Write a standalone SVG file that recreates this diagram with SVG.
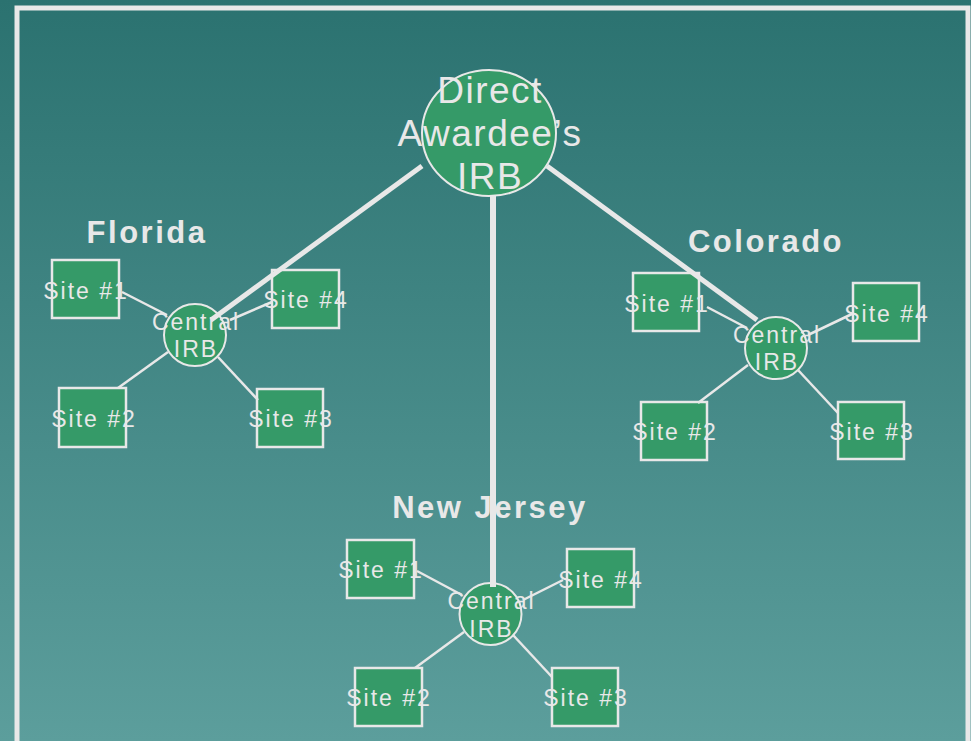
<svg xmlns="http://www.w3.org/2000/svg" width="971" height="741" viewBox="0 0 971 741">
<defs>
<linearGradient id="bg" x1="0" y1="0" x2="0" y2="1">
<stop offset="0" stop-color="#2b7270"/>
<stop offset="1" stop-color="#5c9e9c"/>
</linearGradient>
</defs>
<style>
.box{fill:#359a68;stroke:#e8e8e8;stroke-width:2.5}
.circ{fill:#359a68;stroke:#e8e8e8;stroke-width:2}
.t{font-family:"Liberation Sans",Arial,sans-serif;fill:#e8e8e8;text-anchor:middle}
.s{font-size:23px;letter-spacing:2px}
.big{font-size:37px;letter-spacing:1.5px}
.lbl{font-family:"Liberation Sans",Arial,sans-serif;font-weight:bold;font-size:31px;letter-spacing:2.5px;fill:#e8e8e8;text-anchor:middle}
.thin{stroke:#e8e8e8;stroke-width:2.5;fill:none}
.thick{stroke:#e8e8e8;stroke-width:5;fill:none}
</style>
<rect x="0" y="0" width="971" height="741" fill="url(#bg)"/>
<rect x="17" y="8" width="951" height="760" fill="none" stroke="#e8e8e8" stroke-width="5"/>

<g id="labels">
<text class="lbl" x="147" y="243">Florida</text>
<text class="lbl" x="766" y="252">Colorado</text>
<text class="lbl" x="490" y="518">New Jersey</text>
</g>

<g id="main">
<ellipse class="circ" cx="489" cy="133" rx="67" ry="63"/>
<text class="t big" x="490" y="103">Direct</text>
<text class="t big" x="490" y="146">Awardee’s</text>
<text class="t big" x="490" y="189">IRB</text>
</g>

<g id="fl-central"><circle class="circ" cx="195" cy="335" r="31"/><text class="t s" x="196" y="330">Central</text><text class="t s" x="196" y="357">IRB</text></g>
<g id="fl-site1"><rect class="box" x="52" y="260" width="67" height="58"/><text class="t s" x="86" y="299">Site #1</text></g>
<g id="fl-site4"><rect class="box" x="272" y="270" width="67" height="58"/><text class="t s" x="306" y="308">Site #4</text></g>
<g id="fl-site2"><rect class="box" x="59" y="388" width="67" height="59"/><text class="t s" x="94" y="427">Site #2</text></g>
<g id="fl-site3"><rect class="box" x="257" y="389" width="66" height="58"/><text class="t s" x="291" y="427">Site #3</text></g>

<g id="co-central"><circle class="circ" cx="776" cy="348" r="31"/><text class="t s" x="777" y="343">Central</text><text class="t s" x="777" y="370">IRB</text></g>
<g id="co-site1"><rect class="box" x="633" y="273" width="66" height="58"/><text class="t s" x="667" y="312">Site #1</text></g>
<g id="co-site4"><rect class="box" x="853" y="283" width="66" height="58"/><text class="t s" x="887" y="322">Site #4</text></g>
<g id="co-site2"><rect class="box" x="641" y="402" width="66" height="58"/><text class="t s" x="675" y="440">Site #2</text></g>
<g id="co-site3"><rect class="box" x="838" y="402" width="66" height="57"/><text class="t s" x="872" y="440">Site #3</text></g>

<g id="nj-central"><circle class="circ" cx="490.5" cy="614" r="31"/><text class="t s" x="491.5" y="609">Central</text><text class="t s" x="491.5" y="637">IRB</text></g>
<g id="nj-site1"><rect class="box" x="347" y="540" width="67" height="58"/><text class="t s" x="381" y="578">Site #1</text></g>
<g id="nj-site4"><rect class="box" x="567" y="549" width="67" height="58"/><text class="t s" x="601" y="588">Site #4</text></g>
<g id="nj-site2"><rect class="box" x="355" y="668" width="67" height="58"/><text class="t s" x="389" y="706">Site #2</text></g>
<g id="nj-site3"><rect class="box" x="552" y="668" width="66" height="58"/><text class="t s" x="586" y="706">Site #3</text></g>

<g id="connectors">
<line class="thick" x1="422" y1="166" x2="211" y2="320"/>
<line class="thick" x1="493" y1="196" x2="493" y2="587" style="stroke-width:6"/>
<line class="thick" x1="547" y1="166" x2="757" y2="320"/>

<line class="thin" x1="122" y1="292" x2="167" y2="315"/>
<line class="thin" x1="230" y1="320" x2="272" y2="302"/>
<line class="thin" x1="168" y1="352" x2="118" y2="388"/>
<line class="thin" x1="218" y1="357" x2="258" y2="400"/>

<line class="thin" x1="707" y1="307" x2="747" y2="328"/>
<line class="thin" x1="808" y1="335" x2="852" y2="314"/>
<line class="thin" x1="748" y1="365" x2="698" y2="403"/>
<line class="thin" x1="798" y1="370" x2="838" y2="413"/>

<line class="thin" x1="417" y1="571" x2="462" y2="595"/>
<line class="thin" x1="523" y1="600" x2="563" y2="580"/>
<line class="thin" x1="464" y1="632" x2="415" y2="668"/>
<line class="thin" x1="513" y1="635" x2="552" y2="677"/>
</g>
</svg>
